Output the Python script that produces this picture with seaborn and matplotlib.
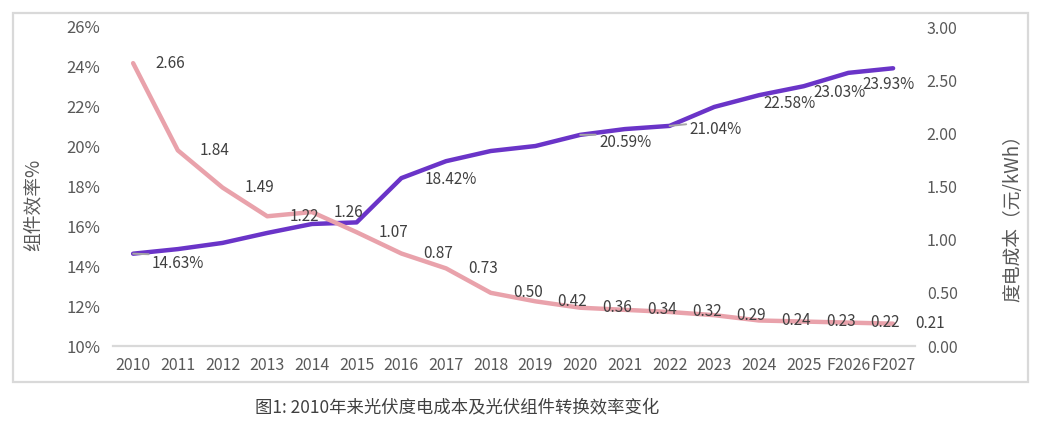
import matplotlib
matplotlib.use('Agg')
import matplotlib.pyplot as plt
import seaborn as sns
import pandas as pd
from matplotlib.patches import Rectangle

# data
years = ['2010', '2011', '2012', '2013', '2014', '2015', '2016', '2017', '2018',
         '2019', '2020', '2021', '2022', '2023', '2024', '2025', 'F2026', 'F2027']
efficiency = [14.63, 14.86, 15.17, 15.67, 16.12, 16.20, 18.42, 19.27, 19.78,
              20.03, 20.59, 20.88, 21.04, 21.99, 22.58, 23.03, 23.70, 23.93]
cost = [2.66, 1.84, 1.49, 1.22, 1.26, 1.07, 0.87, 0.73, 0.50,
        0.42, 0.36, 0.34, 0.32, 0.29, 0.24, 0.23, 0.22, 0.21]
eff_labelled = [0, 6, 10, 12, 14, 15, 17]
eff_leader = [0, 10, 12]

# label offsets (pixels) for the efficiency labels
eff_offsets = [(45, -10), (49, -1), (45, -8), (46, -4), (31, -8), (36, -6), (-5, -16)]

purple = '#6a34c8'
pink = '#e9a2ab'
tick_col = '#595959'
text_col = '#404040'

sns.set_theme(style='white')
plt.rcParams['font.family'] = ['Noto Sans CJK SC', 'DejaVu Sans']

df = pd.DataFrame({'pos': range(len(years)), 'year': years,
                   'eff': efficiency, 'cost': cost})

fig = plt.figure(figsize=(10.46, 4.36), dpi=100)
ax = fig.add_axes([113/1046, 90/436, 802/1046, 319/436])
ax2 = ax.twinx()

sns.lineplot(data=df, x='pos', y='eff', ax=ax, color=purple, lw=3.2,
             solid_capstyle='round', solid_joinstyle='round')
sns.lineplot(data=df, x='pos', y='cost', ax=ax2, color=pink, lw=3.2,
             solid_capstyle='round', solid_joinstyle='round')

ax.set_xlim(-0.45, 17.49)
ax.set_ylim(10, 26)
ax2.set_ylim(0, 3)

ax.set_xticks(df['pos'])
ax.set_xticklabels(years)
ax.set_yticks(range(10, 27, 2))
ax.set_yticklabels([f'{v}%' for v in range(10, 27, 2)])
r_ticks = [0, 0.5, 1.0, 1.5, 2.0, 2.5, 3.0]
ax2.set_yticks(r_ticks)
ax2.set_yticklabels([f'{v:.2f}' for v in r_ticks])

ax.set_xlabel('')
ax.set_ylabel('')
ax2.set_ylabel('')

for a in (ax, ax2):
    for s in a.spines.values():
        s.set_visible(False)
ax.spines['bottom'].set_visible(True)
ax.spines['bottom'].set_color('#d9d9d9')
ax.spines['bottom'].set_linewidth(1.6)

ax.tick_params(axis='x', length=0, pad=8, labelsize=11.5, colors=tick_col)
ax.tick_params(axis='y', length=0, pad=9, labelsize=12, colors=tick_col)
ax2.tick_params(axis='y', length=0, pad=8.5, labelsize=11.5, colors=tick_col)

# cost labels
for i, v in enumerate(cost):
    ax2.annotate(f'{v:.2f}', (i, v), xytext=(37, 0), textcoords='offset pixels',
                 ha='center', va='center', fontsize=11, color=text_col)

# efficiency labels
for k, i in enumerate(eff_labelled):
    arrow = None
    if i in eff_leader:
        arrow = dict(arrowstyle='-', color='#a6a6a6', lw=1.4, relpos=(0.5, 1),
                     shrinkA=0, shrinkB=0)
    ax.annotate(f'{efficiency[i]:.2f}%', (i, efficiency[i]), xytext=eff_offsets[k],
                textcoords='offset pixels', ha='center', va='center',
                fontsize=11, color=text_col, arrowprops=arrow)

# axis titles
fig.text(33/1046, 1 - 205/436, '组件效率%', rotation=90, ha='center', va='center',
         fontsize=13.5, color=tick_col)
fig.text(1013/1046, 1 - 214/436, '度电成本（元/kWh）', rotation=90, ha='center',
         va='center', fontsize=13.5, color=tick_col)

# chart frame and caption
fig.patches.append(Rectangle((13/1046, 54/436), 1015/1046, 369/436,
                             transform=fig.transFigure, fill=False,
                             edgecolor='#d9d9d9', lw=1.6))
fig.text(457/1046, 1 - 407/436, '图1: 2010年来光伏度电成本及光伏组件转换效率变化',
         ha='center', va='center', fontsize=12.5, color=text_col)

fig.savefig('out.png', dpi=100)
